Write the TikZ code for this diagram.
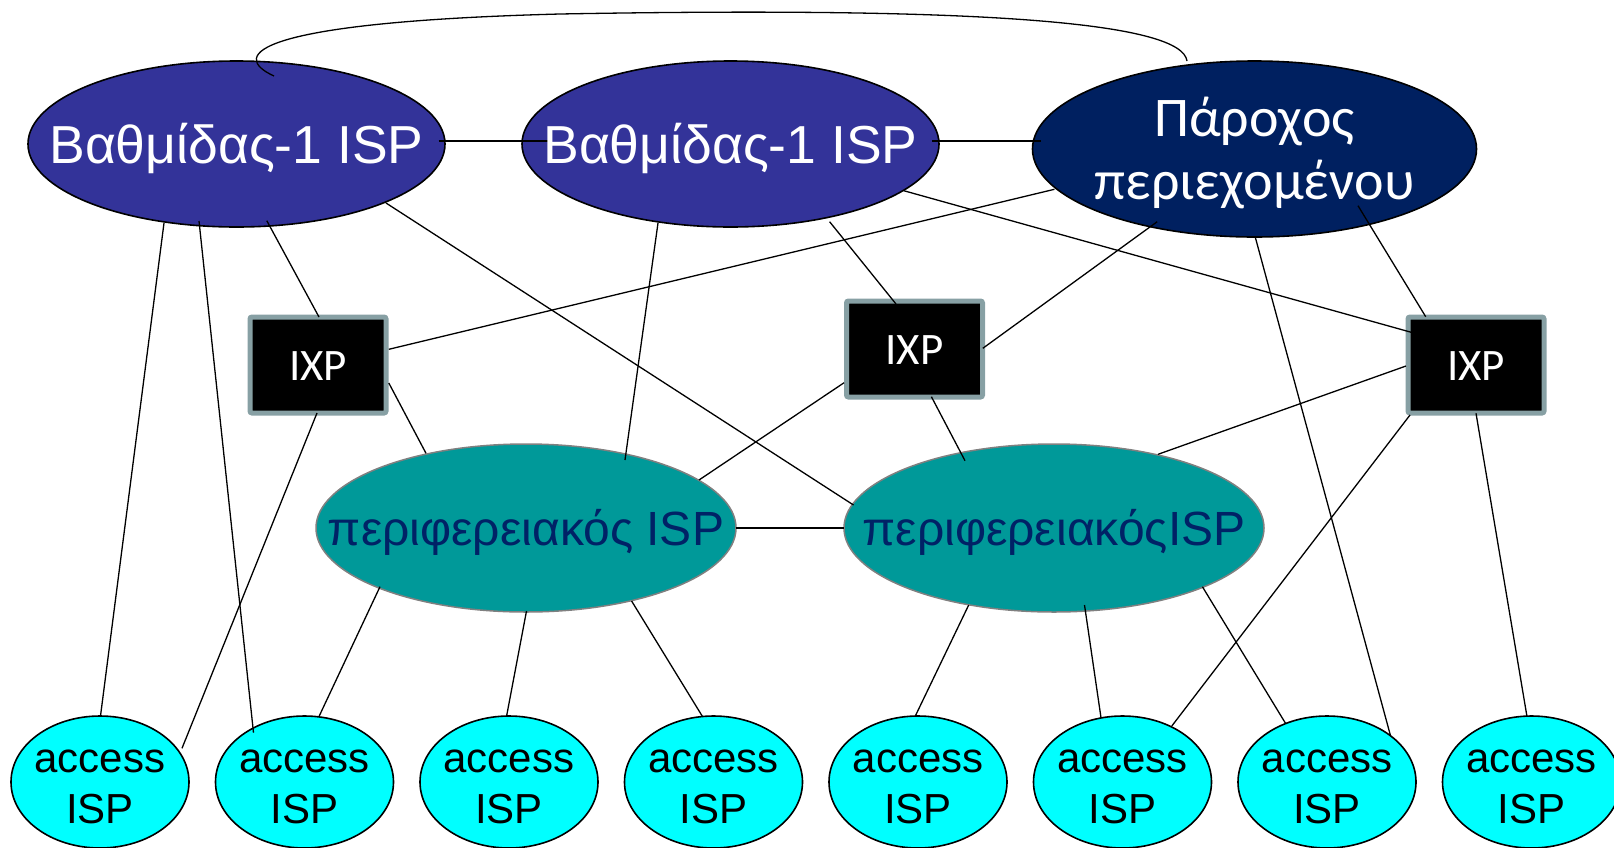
\documentclass[tikz,border=0pt]{standalone}
\usepackage{fontspec}
\setmainfont{Liberation Sans}
\newfontfamily\carlito{Carlito}
\usetikzlibrary{shapes.geometric,calc}
\definecolor{tierblue}{RGB}{51,51,153}
\definecolor{cpnavy}{RGB}{0,32,96}
\definecolor{regteal}{RGB}{0,153,153}
\definecolor{regtext}{RGB}{0,34,102}
\definecolor{ixpedge}{RGB}{135,160,164}
\definecolor{accfill}{RGB}{0,255,255}
\begin{document}
\begin{tikzpicture}[x=1pt,y=-1pt,
  blob/.style={ellipse, inner sep=0pt, outer sep=0pt},
  tierone/.style={blob, draw=black, line width=1.6pt, fill=tierblue,
    minimum width=417pt, minimum height=166pt},
  content/.style={blob, draw=black, line width=1.6pt, fill=cpnavy,
    minimum width=444pt, minimum height=176pt},
  regional/.style={blob, draw=gray, line width=1.5pt, fill=regteal,
    minimum width=420pt, minimum height=168pt},
  access/.style={blob, draw=black, line width=1.6pt, fill=accfill,
    minimum width=178pt, minimum height=132pt},
  ixp/.style={rectangle, rounded corners=2pt, draw=ixpedge, line width=5pt,
    fill=black, minimum width=136pt, minimum height=96pt,
    inner sep=0pt, outer sep=0pt},
  tiertext/.style={text=white, anchor=base, inner sep=0pt,
    font=\fontsize{53.5}{60}\selectfont},
  cptext/.style={text=white, align=center, inner sep=0pt,
    font=\carlito\fontsize{56}{63}\selectfont},
  regtextstyle/.style={text=regtext, anchor=base, inner sep=0pt,
    font=\fontsize{48}{56}\selectfont},
  ixptext/.style={text=white, anchor=base, inner sep=0pt,
    font=\carlito\fontsize{45}{50}\selectfont},
  acctext/.style={text=black, align=center, inner sep=0pt,
    font=\fontsize{42}{51}\selectfont},
  link/.style={line width=1.3pt, black},
  peer/.style={line width=2.2pt, black}
]
\useasboundingbox (0,0) rectangle (1614,847);

% tier-1 ISPs and the content provider
\node[tierone] (t1a) at (236.5,144) {};
\node[tierone] (t1b) at (730.5,144) {};
\node[content] (cp) at (1254.5,149) {};

% IXPs
\node[ixp] (ixa) at (318,365) {};
\node[ixp] (ixb) at (914.5,349) {};
\node[ixp] (ixc) at (1476,365) {};

% regional ISPs
\node[regional] (rga) at (526,528) {};
\node[regional] (rgb) at (1054,528) {};

% access ISPs
\foreach \i in {1,...,8}{
  \node[access] (a\i) at ({100+204.5*(\i-1)},782) {};
}

% links
\draw[peer] ($(t1a)+(202,-3)$) -- ($(t1b)+(-182,-3)$);
\draw[peer] ($(t1b)+(201.5,-3)$) -- ($(cp)+(-213.5,-8)$);
\coordinate (arctop) at (560,14);
\draw[link] ($(t1a)+(37.5,-68)$) .. controls (228,55) and (255,22) .. (arctop)
  .. controls (1000,6) and (1182,24) .. ($(cp)+(-67.5,-88)$);

\draw[link] ($(t1a)+(-72.5,79)$) -- ($(a1)+(0.5,-66)$);
\draw[link] ($(t1a)+(-37.5,77)$) -- ($(a2)+(-51,-49.3)$);
\draw[link] ($(t1a)+(30.3,76.7)$) -- ($(ixa)+(1,-48)$);
\draw[link] ($(t1a)+(149.5,59)$) -- ($(rgb)+(-200.5,-23)$);
\draw[link] ($(ixa)+(70.8,-15.7)$) -- ($(cp)+(-200.1,40.3)$);
\draw[link] ($(t1b)+(-72.5,79)$) -- ($(rga)+(99,-68)$);
\draw[link] ($(ixa)+(70.8,18)$) -- ($(rga)+(-100,-74.7)$);
\draw[link] ($(ixa)+(-1,48)$) -- ($(a1)+(82,-33.7)$);
\draw[link] ($(t1b)+(99.1,77.7)$) -- ($(ixb)+(-18.5,-45)$);
\draw[link] ($(cp)+(-97.3,72.7)$) -- ($(ixb)+(68.3,-0.7)$);
\draw[link] ($(t1b)+(173.3,46.7)$) -- ($(ixc)+(-63.3,-32.3)$);
\draw[link] ($(cp)+(103.5,56.7)$) -- ($(ixc)+(-50.3,-48.3)$);
\draw[link] ($(cp)+(0.8,88.3)$) -- ($(a7)+(63.3,-47)$);
\draw[link] ($(ixb)+(-70.4,33.7)$) -- ($(rga)+(173,-48)$);
\draw[link] ($(ixb)+(16.9,47.7)$) -- ($(rgb)+(-89,-67.3)$);
\draw[link] ($(ixc)+(-70,1)$) -- ($(rgb)+(104,-73.7)$);
\draw[link] ($(ixc)+(-66,50)$) -- ($(a6)+(49.3,-56)$);
\draw[link] ($(ixc)+(0,48.3)$) -- ($(a8)+(-4.5,-65.3)$);
\draw[link] ($(rga)+(209.7,0)$) -- ($(rgb)+(-210,0)$);
\draw[link] ($(rga)+(-146,58.7)$) -- ($(a2)+(14.4,-65.3)$);
\draw[link] ($(rga)+(0.5,83)$) -- ($(a3)+(-2.4,-66)$);
\draw[link] ($(rga)+(105.6,73)$) -- ($(a4)+(-10.9,-65.3)$);
\draw[link] ($(rgb)+(-85.3,77)$) -- ($(a5)+(-2.7,-66)$);
\draw[link] ($(rgb)+(30.5,77)$) -- ($(a6)+(-21.5,-64.3)$);
\draw[link] ($(rgb)+(148.4,58.7)$) -- ($(a7)+(-41.5,-58.7)$);

% labels
\node[tiertext] (t1a-txt) at ($(t1a)+(0,19)$) {Βαθμίδας-1 ISP};
\node[tiertext] (t1b-txt) at ($(t1b)+(0,19)$) {Βαθμίδας-1 ISP};
\node[cptext] (cp-txt) at ($(cp)+(0,4)$) {Πάροχος\\περιεχομένου};
\node[ixptext] (ixa-txt) at ($(ixa)+(0,15)$) {IXP};
\node[ixptext] (ixb-txt) at ($(ixb)+(0,15)$) {IXP};
\node[ixptext] (ixc-txt) at ($(ixc)+(0,15)$) {IXP};
\node[regtextstyle] (rga-txt) at ($(rga)+(0,17)$) {περιφερειακός ISP};
\node[regtextstyle] (rgb-txt) at ($(rgb)+(0,17)$) {περιφερειακόςISP};
\foreach \i in {1,...,8}{
  \node[acctext] (a\i-txt) at ($(a\i)+(0,5)$) {access\\ISP};
}
\end{tikzpicture}
\end{document}
